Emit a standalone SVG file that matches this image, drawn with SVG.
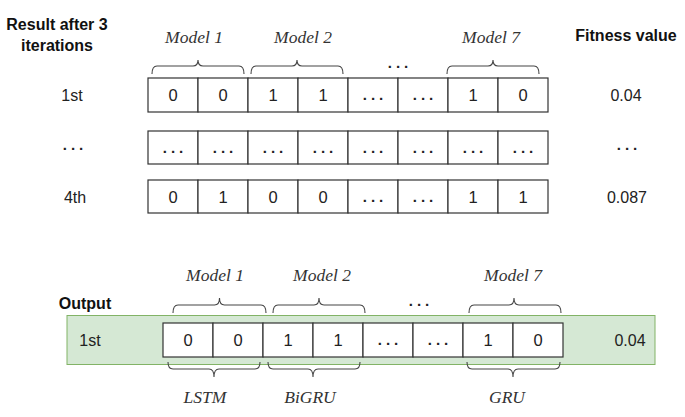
<svg xmlns="http://www.w3.org/2000/svg" width="685" height="417" viewBox="0 0 685 417">
<style>
.cell{fill:#fff;stroke:#333;stroke-width:1.2}
.v{font-family:"Liberation Sans",Arial,sans-serif;font-size:16.5px;fill:#222;text-anchor:middle}
.d{font-family:"Liberation Sans",Arial,sans-serif;font-size:15px;fill:#222;text-anchor:middle;letter-spacing:4px;font-weight:bold}
.lab{font-family:"Liberation Sans",Arial,sans-serif;font-size:16px;fill:#222;text-anchor:middle}
.h{font-family:"Liberation Sans",Arial,sans-serif;font-size:16px;font-weight:bold;fill:#111}
.m{font-family:"Liberation Serif","Times New Roman",serif;font-style:italic;font-size:17.5px;fill:#333;text-anchor:middle}
.br{fill:none;stroke:#444;stroke-width:1.1}
</style>
<rect width="685" height="417" fill="#fff"/>

<g id="headers">
<text class="h" x="57" y="30" text-anchor="middle">Result after 3</text>
<text class="h" x="57" y="51" text-anchor="middle">iterations</text>
<text class="h" x="626" y="41" text-anchor="middle">Fitness value</text>
<text class="h" x="85" y="309" text-anchor="middle">Output</text>
</g>

<g id="model-labels-top">
<text class="m" x="194" y="43">Model 1</text>
<text class="m" x="303" y="43">Model 2</text>
<text class="m" x="491" y="43">Model 7</text>
<text class="d" x="400" y="68">...</text>
</g>

<g id="row-1st">
<text class="lab" x="72" y="101">1st</text>
<rect class="cell" x="148" y="78" width="50" height="34"/>
<rect class="cell" x="198" y="78" width="50" height="34"/>
<rect class="cell" x="248" y="78" width="50" height="34"/>
<rect class="cell" x="298" y="78" width="50" height="34"/>
<rect class="cell" x="348" y="78" width="50" height="34"/>
<rect class="cell" x="398" y="78" width="50" height="34"/>
<rect class="cell" x="448" y="78" width="50" height="34"/>
<rect class="cell" x="498" y="78" width="50" height="34"/>
<text class="v" x="173" y="101">0</text>
<text class="v" x="223" y="101">0</text>
<text class="v" x="273" y="101">1</text>
<text class="v" x="323" y="101">1</text>
<text class="d" x="375" y="100">...</text>
<text class="d" x="425" y="100">...</text>
<text class="v" x="473" y="101">1</text>
<text class="v" x="523" y="101">0</text>
<text class="lab" x="626" y="101">0.04</text>
</g>

<g id="row-dots">
<text class="d" x="75" y="150">...</text>
<rect class="cell" x="148" y="131" width="50" height="33"/>
<rect class="cell" x="198" y="131" width="50" height="33"/>
<rect class="cell" x="248" y="131" width="50" height="33"/>
<rect class="cell" x="298" y="131" width="50" height="33"/>
<rect class="cell" x="348" y="131" width="50" height="33"/>
<rect class="cell" x="398" y="131" width="50" height="33"/>
<rect class="cell" x="448" y="131" width="50" height="33"/>
<rect class="cell" x="498" y="131" width="50" height="33"/>
<text class="d" x="175" y="153">...</text>
<text class="d" x="225" y="153">...</text>
<text class="d" x="275" y="153">...</text>
<text class="d" x="325" y="153">...</text>
<text class="d" x="375" y="153">...</text>
<text class="d" x="425" y="153">...</text>
<text class="d" x="475" y="153">...</text>
<text class="d" x="525" y="153">...</text>
<text class="d" x="629" y="150">...</text>
</g>

<g id="row-4th">
<text class="lab" x="75" y="203">4th</text>
<rect class="cell" x="148" y="180" width="50" height="33"/>
<rect class="cell" x="198" y="180" width="50" height="33"/>
<rect class="cell" x="248" y="180" width="50" height="33"/>
<rect class="cell" x="298" y="180" width="50" height="33"/>
<rect class="cell" x="348" y="180" width="50" height="33"/>
<rect class="cell" x="398" y="180" width="50" height="33"/>
<rect class="cell" x="448" y="180" width="50" height="33"/>
<rect class="cell" x="498" y="180" width="50" height="33"/>
<text class="v" x="173" y="203">0</text>
<text class="v" x="223" y="203">1</text>
<text class="v" x="273" y="203">0</text>
<text class="v" x="323" y="203">0</text>
<text class="d" x="375" y="202">...</text>
<text class="d" x="425" y="202">...</text>
<text class="v" x="473" y="203">1</text>
<text class="v" x="523" y="203">1</text>
<text class="lab" x="627" y="203">0.087</text>
</g>

<g id="model-labels-bottom">
<text class="m" x="215" y="281">Model 1</text>
<text class="m" x="322" y="281">Model 2</text>
<text class="m" x="513" y="281">Model 7</text>
<text class="d" x="421" y="306">...</text>
<text class="m" x="205" y="403">LSTM</text>
<text class="m" x="310" y="403">BiGRU</text>
<text class="m" x="507" y="403">GRU</text>
</g>

<g id="output-row">
<rect x="67" y="315.5" width="588" height="49" fill="#d5e8d4" stroke="#82b366" stroke-width="1"/>
<text class="lab" x="90" y="346">1st</text>
<rect class="cell" x="163" y="323" width="50" height="34"/>
<rect class="cell" x="213" y="323" width="50" height="34"/>
<rect class="cell" x="263" y="323" width="50" height="34"/>
<rect class="cell" x="313" y="323" width="50" height="34"/>
<rect class="cell" x="363" y="323" width="50" height="34"/>
<rect class="cell" x="413" y="323" width="50" height="34"/>
<rect class="cell" x="463" y="323" width="50" height="34"/>
<rect class="cell" x="513" y="323" width="50" height="34"/>
<text class="v" x="188" y="346">0</text>
<text class="v" x="238" y="346">0</text>
<text class="v" x="288" y="346">1</text>
<text class="v" x="338" y="346">1</text>
<text class="d" x="390" y="345">...</text>
<text class="d" x="440" y="345">...</text>
<text class="v" x="488" y="346">1</text>
<text class="v" x="538" y="346">0</text>
<text class="lab" x="630" y="346">0.04</text>
</g>

<g id="braces">
<path class="br" d="M152,74 Q152,66 157,66 L193,66 Q198,66 198,60 Q198,66 203,66 L239,66 Q244,66 244,74"/>
<path class="br" d="M251,74 Q251,66 256,66 L292,66 Q297,66 297,60 Q297,66 302,66 L338,66 Q343,66 343,74"/>
<path class="br" d="M447,74 Q447,66 452,66 L488,66 Q493,66 493,60 Q493,66 498,66 L534,66 Q539,66 539,74"/>

<path class="br" d="M173,313 Q173,305 178,305 L214.5,305 Q219.5,305 219.5,298 Q219.5,305 224.5,305 L261,305 Q266,305 266,313"/>
<path class="br" d="M273,313 Q273,305 278,305 L314,305 Q319,305 319,298 Q319,305 324,305 L360,305 Q365,305 365,313"/>
<path class="br" d="M469,313 Q469,305 474,305 L509,305 Q514,305 514,298 Q514,305 519,305 L556,305 Q561,305 561,313"/>

<path class="br" d="M168,362 Q168,369 173,369 L209,369 Q214,369 214,377 Q214,369 219,369 L255,369 Q260,369 260,362"/>
<path class="br" d="M268,362 Q268,369 273,369 L308,369 Q313,369 313,377 Q313,369 318,369 L355,369 Q360,369 360,362"/>
<path class="br" d="M467,362 Q467,369 472,369 L508,369 Q513,369 513,377 Q513,369 518,369 L555,369 Q560,369 560,362"/>
</g>
</svg>
